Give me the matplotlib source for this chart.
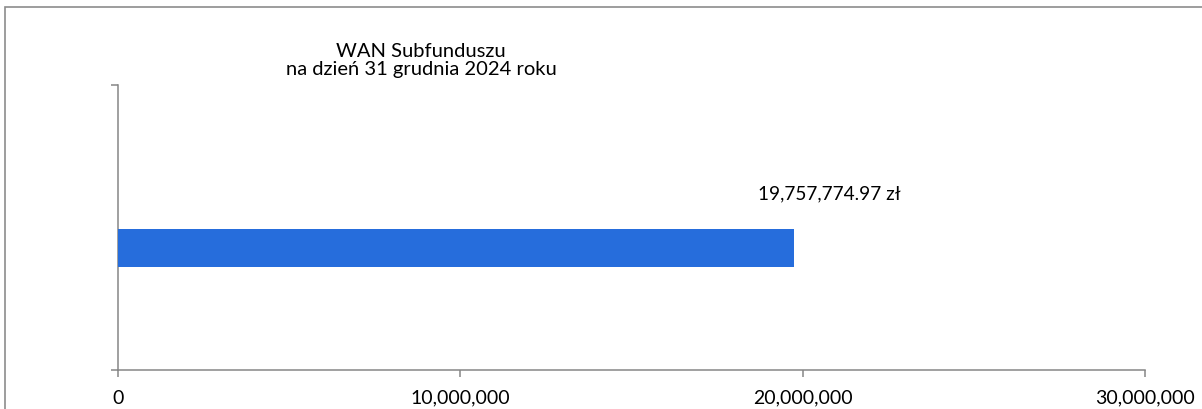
import matplotlib.pyplot as plt
from matplotlib.patches import Rectangle
from matplotlib.ticker import FuncFormatter

plt.rcParams['font.family'] = ['Lato', 'DejaVu Sans']

# dane
categories = ['WAN']
values = [19757774.97]
value_labels = ['19,757,774.97 zł']
x_ticks = [0, 10000000, 20000000, 30000000]
title = 'WAN Subfunduszu\nna dzień 31 grudnia 2024 roku'

axis_gray = '#868686'
bar_blue = '#266DDC'

fig = plt.figure(figsize=(12.02, 4.10), dpi=100)
ax = fig.add_axes((118 / 1202, 39 / 410, 1027 / 1202, 285 / 410))

# ramka wykresu (wychodzi poza prawy i dolny brzeg)
fig.patches.append(Rectangle((5 / 1202, -0.1), 1.2, 1 - 8 / 410 + 0.1,
                             transform=fig.transFigure, fill=False,
                             edgecolor='#8c8c8c', linewidth=1.2))

ax.barh([0], values, height=38 / 285, color=bar_blue, zorder=3)
ax.set_ylim(-0.428, 0.572)
ax.set_xlim(x_ticks[0], x_ticks[-1])

ax.set_xticks(x_ticks)
ax.xaxis.set_major_formatter(FuncFormatter(lambda v, p: f'{int(v):,}'))
ax.set_yticks([-0.428, 0.572])
ax.set_yticklabels([])

for s in ['top', 'right']:
    ax.spines[s].set_visible(False)
for s in ['left', 'bottom']:
    ax.spines[s].set_color(axis_gray)
    ax.spines[s].set_linewidth(1.1)

ax.tick_params(axis='x', length=5, width=1.1, color=axis_gray, labelsize=14,
               labelcolor='black', pad=8.5)
ax.tick_params(axis='y', length=5, width=1.1, color=axis_gray)

for v, lab in zip(values, value_labels):
    ax.annotate(lab, xy=(v, 0), xytext=(35, 55), textcoords='offset pixels',
                ha='center', va='center', fontsize=13.7, color='black')

fig.text(421 / 1202, 1 - 43 / 410, title, ha='center', va='top',
         fontsize=14.5, linespacing=1.08, color='black')

fig.savefig('out.png', dpi=100)
